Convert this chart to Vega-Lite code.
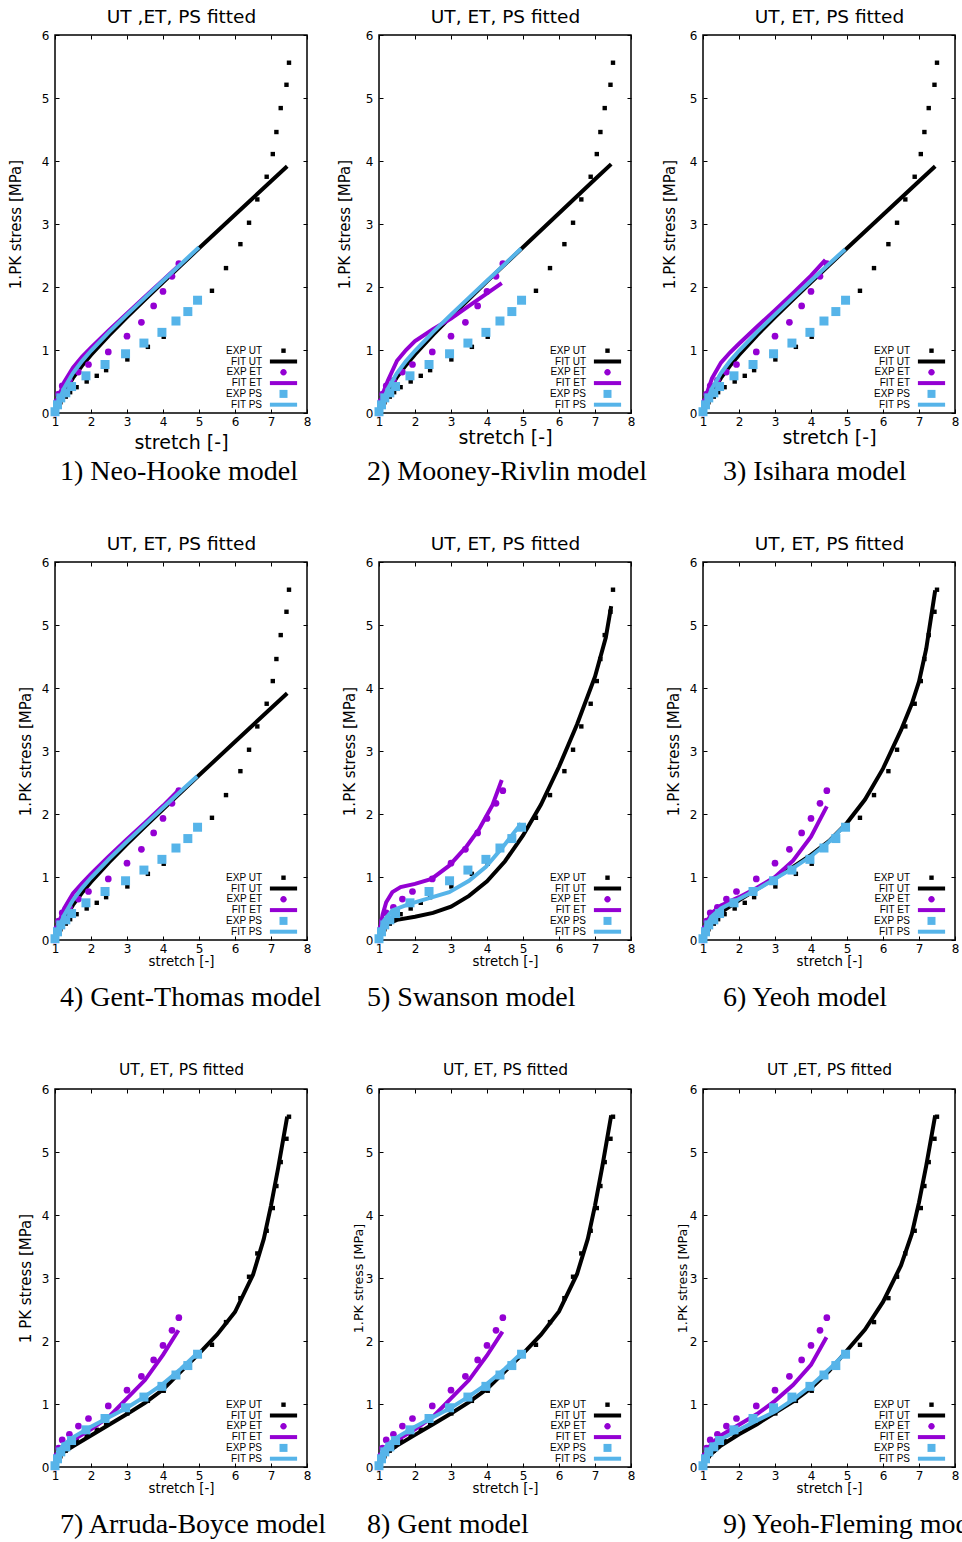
{
"$schema": "https://vega.github.io/schema/vega-lite/v6.json",
"background": "white",
"padding": {"left": 7, "top": 6, "right": 0, "bottom": 0},
"columns": 3,
"spacing": {"row": 149, "column": 72},
"bounds": "flush",
"resolve": {"scale": {"color": "independent", "shape": "independent"}, "legend": {"color": "independent", "shape": "independent"}},
"datasets": {
"exp": [
{"series":"EXP UT","s":1.0,"v":0.0},{"series":"EXP UT","s":1.05,"v":0.08},{"series":"EXP UT","s":1.15,"v":0.17},{"series":"EXP UT","s":1.3,"v":0.26},{"series":"EXP UT","s":1.42,"v":0.33},{"series":"EXP UT","s":1.6,"v":0.41},{"series":"EXP UT","s":1.88,"v":0.5},{"series":"EXP UT","s":2.16,"v":0.59},{"series":"EXP UT","s":2.42,"v":0.68},{"series":"EXP UT","s":3.01,"v":0.85},{"series":"EXP UT","s":3.58,"v":1.05},{"series":"EXP UT","s":4.02,"v":1.21},{"series":"EXP UT","s":4.74,"v":1.58},{"series":"EXP UT","s":5.36,"v":1.94},{"series":"EXP UT","s":5.75,"v":2.3},{"series":"EXP UT","s":6.15,"v":2.68},{"series":"EXP UT","s":6.39,"v":3.02},{"series":"EXP UT","s":6.62,"v":3.39},{"series":"EXP UT","s":6.88,"v":3.75},{"series":"EXP UT","s":7.05,"v":4.11},{"series":"EXP UT","s":7.15,"v":4.46},{"series":"EXP UT","s":7.27,"v":4.84},{"series":"EXP UT","s":7.43,"v":5.21},{"series":"EXP UT","s":7.5,"v":5.56},
{"series":"EXP ET","s":1.0,"v":0.0},{"series":"EXP ET","s":1.05,"v":0.18},{"series":"EXP ET","s":1.1,"v":0.3},{"series":"EXP ET","s":1.2,"v":0.43},{"series":"EXP ET","s":1.4,"v":0.52},{"series":"EXP ET","s":1.65,"v":0.65},{"series":"EXP ET","s":1.93,"v":0.77},{"series":"EXP ET","s":2.48,"v":0.97},{"series":"EXP ET","s":3.0,"v":1.22},{"series":"EXP ET","s":3.4,"v":1.44},{"series":"EXP ET","s":3.74,"v":1.7},{"series":"EXP ET","s":4.0,"v":1.93},{"series":"EXP ET","s":4.25,"v":2.17},{"series":"EXP ET","s":4.44,"v":2.37},
{"series":"EXP PS","s":1.0,"v":0.02},{"series":"EXP PS","s":1.07,"v":0.13},{"series":"EXP PS","s":1.16,"v":0.24},{"series":"EXP PS","s":1.3,"v":0.32},{"series":"EXP PS","s":1.46,"v":0.42},{"series":"EXP PS","s":1.86,"v":0.59},{"series":"EXP PS","s":2.39,"v":0.77},{"series":"EXP PS","s":2.96,"v":0.94},{"series":"EXP PS","s":3.47,"v":1.11},{"series":"EXP PS","s":3.97,"v":1.28},{"series":"EXP PS","s":4.36,"v":1.46},{"series":"EXP PS","s":4.69,"v":1.61},{"series":"EXP PS","s":4.96,"v":1.79}
],
"fit": [
{"p":1,"series":"FIT UT","s":1,"v":0},{"p":1,"series":"FIT UT","s":1.05,"v":0.075},{"p":1,"series":"FIT UT","s":1.1,"v":0.144},{"p":1,"series":"FIT UT","s":1.25,"v":0.321},{"p":1,"series":"FIT UT","s":1.5,"v":0.557},{"p":1,"series":"FIT UT","s":1.75,"v":0.75},{"p":1,"series":"FIT UT","s":2,"v":0.922},{"p":1,"series":"FIT UT","s":2.5,"v":1.233},{"p":1,"series":"FIT UT","s":3,"v":1.522},{"p":1,"series":"FIT UT","s":3.5,"v":1.801},{"p":1,"series":"FIT UT","s":4,"v":2.075},{"p":1,"series":"FIT UT","s":5,"v":2.614},{"p":1,"series":"FIT UT","s":6,"v":3.147},{"p":1,"series":"FIT UT","s":7,"v":3.678},{"p":1,"series":"FIT UT","s":7.45,"v":3.917},
{"p":1,"series":"FIT ET","s":1,"v":0},{"p":1,"series":"FIT ET","s":1.05,"v":0.14},{"p":1,"series":"FIT ET","s":1.1,"v":0.252},{"p":1,"series":"FIT ET","s":1.25,"v":0.486},{"p":1,"series":"FIT ET","s":1.5,"v":0.721},{"p":1,"series":"FIT ET","s":1.75,"v":0.89},{"p":1,"series":"FIT ET","s":2,"v":1.038},{"p":1,"series":"FIT ET","s":2.5,"v":1.316},{"p":1,"series":"FIT ET","s":3,"v":1.581},{"p":1,"series":"FIT ET","s":3.5,"v":1.844},{"p":1,"series":"FIT ET","s":4,"v":2.108},{"p":1,"series":"FIT ET","s":4.45,"v":2.345},
{"p":1,"series":"FIT PS","s":1,"v":0},{"p":1,"series":"FIT PS","s":1.05,"v":0.098},{"p":1,"series":"FIT PS","s":1.1,"v":0.184},{"p":1,"series":"FIT PS","s":1.25,"v":0.389},{"p":1,"series":"FIT PS","s":1.5,"v":0.634},{"p":1,"series":"FIT PS","s":1.75,"v":0.824},{"p":1,"series":"FIT PS","s":2,"v":0.988},{"p":1,"series":"FIT PS","s":2.5,"v":1.284},{"p":1,"series":"FIT PS","s":3,"v":1.561},{"p":1,"series":"FIT PS","s":3.5,"v":1.832},{"p":1,"series":"FIT PS","s":4,"v":2.1},{"p":1,"series":"FIT PS","s":4.5,"v":2.366},{"p":1,"series":"FIT PS","s":5,"v":2.631},

{"p":2,"series":"FIT UT","s":1,"v":0},{"p":2,"series":"FIT UT","s":1.05,"v":0.08},{"p":2,"series":"FIT UT","s":1.1,"v":0.15},{"p":2,"series":"FIT UT","s":1.25,"v":0.33},{"p":2,"series":"FIT UT","s":1.5,"v":0.57},{"p":2,"series":"FIT UT","s":1.75,"v":0.76},{"p":2,"series":"FIT UT","s":2,"v":0.93},{"p":2,"series":"FIT UT","s":2.5,"v":1.24},{"p":2,"series":"FIT UT","s":3,"v":1.53},{"p":2,"series":"FIT UT","s":3.5,"v":1.81},{"p":2,"series":"FIT UT","s":4,"v":2.09},{"p":2,"series":"FIT UT","s":5,"v":2.63},{"p":2,"series":"FIT UT","s":6,"v":3.17},{"p":2,"series":"FIT UT","s":7,"v":3.71},{"p":2,"series":"FIT UT","s":7.45,"v":3.95},
{"p":2,"series":"FIT ET","s":1,"v":0},{"p":2,"series":"FIT ET","s":1.05,"v":0.17},{"p":2,"series":"FIT ET","s":1.1,"v":0.3},{"p":2,"series":"FIT ET","s":1.25,"v":0.52},{"p":2,"series":"FIT ET","s":1.5,"v":0.83},{"p":2,"series":"FIT ET","s":1.75,"v":1.0},{"p":2,"series":"FIT ET","s":2,"v":1.14},{"p":2,"series":"FIT ET","s":2.5,"v":1.33},{"p":2,"series":"FIT ET","s":3,"v":1.5},{"p":2,"series":"FIT ET","s":3.5,"v":1.7},{"p":2,"series":"FIT ET","s":4,"v":1.9},{"p":2,"series":"FIT ET","s":4.41,"v":2.06},
{"p":2,"series":"FIT PS","s":1,"v":0},{"p":2,"series":"FIT PS","s":1.05,"v":0.098},{"p":2,"series":"FIT PS","s":1.1,"v":0.184},{"p":2,"series":"FIT PS","s":1.25,"v":0.389},{"p":2,"series":"FIT PS","s":1.5,"v":0.634},{"p":2,"series":"FIT PS","s":1.75,"v":0.824},{"p":2,"series":"FIT PS","s":2,"v":0.988},{"p":2,"series":"FIT PS","s":2.5,"v":1.284},{"p":2,"series":"FIT PS","s":3,"v":1.561},{"p":2,"series":"FIT PS","s":3.5,"v":1.832},{"p":2,"series":"FIT PS","s":4,"v":2.1},{"p":2,"series":"FIT PS","s":4.5,"v":2.366},{"p":2,"series":"FIT PS","s":4.95,"v":2.61},

{"p":3,"series":"FIT UT","s":1,"v":0},{"p":3,"series":"FIT UT","s":1.05,"v":0.075},{"p":3,"series":"FIT UT","s":1.1,"v":0.144},{"p":3,"series":"FIT UT","s":1.25,"v":0.321},{"p":3,"series":"FIT UT","s":1.5,"v":0.557},{"p":3,"series":"FIT UT","s":1.75,"v":0.75},{"p":3,"series":"FIT UT","s":2,"v":0.922},{"p":3,"series":"FIT UT","s":2.5,"v":1.233},{"p":3,"series":"FIT UT","s":3,"v":1.522},{"p":3,"series":"FIT UT","s":3.5,"v":1.801},{"p":3,"series":"FIT UT","s":4,"v":2.075},{"p":3,"series":"FIT UT","s":5,"v":2.614},{"p":3,"series":"FIT UT","s":6,"v":3.147},{"p":3,"series":"FIT UT","s":7,"v":3.678},{"p":3,"series":"FIT UT","s":7.45,"v":3.917},
{"p":3,"series":"FIT ET","s":1,"v":0},{"p":3,"series":"FIT ET","s":1.05,"v":0.16},{"p":3,"series":"FIT ET","s":1.1,"v":0.3},{"p":3,"series":"FIT ET","s":1.25,"v":0.55},{"p":3,"series":"FIT ET","s":1.5,"v":0.8},{"p":3,"series":"FIT ET","s":1.75,"v":0.96},{"p":3,"series":"FIT ET","s":2,"v":1.1},{"p":3,"series":"FIT ET","s":2.5,"v":1.37},{"p":3,"series":"FIT ET","s":3,"v":1.63},{"p":3,"series":"FIT ET","s":3.5,"v":1.9},{"p":3,"series":"FIT ET","s":4,"v":2.18},{"p":3,"series":"FIT ET","s":4.4,"v":2.43},
{"p":3,"series":"FIT PS","s":1,"v":0},{"p":3,"series":"FIT PS","s":1.05,"v":0.098},{"p":3,"series":"FIT PS","s":1.1,"v":0.184},{"p":3,"series":"FIT PS","s":1.25,"v":0.389},{"p":3,"series":"FIT PS","s":1.5,"v":0.634},{"p":3,"series":"FIT PS","s":1.75,"v":0.824},{"p":3,"series":"FIT PS","s":2,"v":0.988},{"p":3,"series":"FIT PS","s":2.5,"v":1.284},{"p":3,"series":"FIT PS","s":3,"v":1.561},{"p":3,"series":"FIT PS","s":3.5,"v":1.832},{"p":3,"series":"FIT PS","s":4,"v":2.1},{"p":3,"series":"FIT PS","s":4.5,"v":2.366},{"p":3,"series":"FIT PS","s":4.95,"v":2.6},

{"p":4,"series":"FIT UT","s":1,"v":0},{"p":4,"series":"FIT UT","s":1.05,"v":0.075},{"p":4,"series":"FIT UT","s":1.1,"v":0.144},{"p":4,"series":"FIT UT","s":1.25,"v":0.321},{"p":4,"series":"FIT UT","s":1.5,"v":0.557},{"p":4,"series":"FIT UT","s":1.75,"v":0.75},{"p":4,"series":"FIT UT","s":2,"v":0.922},{"p":4,"series":"FIT UT","s":2.5,"v":1.233},{"p":4,"series":"FIT UT","s":3,"v":1.522},{"p":4,"series":"FIT UT","s":3.5,"v":1.801},{"p":4,"series":"FIT UT","s":4,"v":2.075},{"p":4,"series":"FIT UT","s":5,"v":2.614},{"p":4,"series":"FIT UT","s":6,"v":3.147},{"p":4,"series":"FIT UT","s":7,"v":3.678},{"p":4,"series":"FIT UT","s":7.45,"v":3.917},
{"p":4,"series":"FIT ET","s":1,"v":0},{"p":4,"series":"FIT ET","s":1.05,"v":0.15},{"p":4,"series":"FIT ET","s":1.1,"v":0.26},{"p":4,"series":"FIT ET","s":1.25,"v":0.5},{"p":4,"series":"FIT ET","s":1.5,"v":0.74},{"p":4,"series":"FIT ET","s":1.75,"v":0.9},{"p":4,"series":"FIT ET","s":2,"v":1.05},{"p":4,"series":"FIT ET","s":2.5,"v":1.33},{"p":4,"series":"FIT ET","s":3,"v":1.6},{"p":4,"series":"FIT ET","s":3.5,"v":1.86},{"p":4,"series":"FIT ET","s":4,"v":2.13},{"p":4,"series":"FIT ET","s":4.42,"v":2.37},
{"p":4,"series":"FIT PS","s":1,"v":0},{"p":4,"series":"FIT PS","s":1.05,"v":0.098},{"p":4,"series":"FIT PS","s":1.1,"v":0.184},{"p":4,"series":"FIT PS","s":1.25,"v":0.389},{"p":4,"series":"FIT PS","s":1.5,"v":0.634},{"p":4,"series":"FIT PS","s":1.75,"v":0.824},{"p":4,"series":"FIT PS","s":2,"v":0.988},{"p":4,"series":"FIT PS","s":2.5,"v":1.284},{"p":4,"series":"FIT PS","s":3,"v":1.561},{"p":4,"series":"FIT PS","s":3.5,"v":1.832},{"p":4,"series":"FIT PS","s":4,"v":2.1},{"p":4,"series":"FIT PS","s":4.5,"v":2.366},{"p":4,"series":"FIT PS","s":4.95,"v":2.6},

{"p":5,"series":"FIT UT","s":1,"v":0},{"p":5,"series":"FIT UT","s":1.05,"v":0.09},{"p":5,"series":"FIT UT","s":1.1,"v":0.16},{"p":5,"series":"FIT UT","s":1.25,"v":0.26},{"p":5,"series":"FIT UT","s":1.5,"v":0.32},{"p":5,"series":"FIT UT","s":2,"v":0.37},{"p":5,"series":"FIT UT","s":2.5,"v":0.43},{"p":5,"series":"FIT UT","s":3,"v":0.53},{"p":5,"series":"FIT UT","s":3.5,"v":0.7},{"p":5,"series":"FIT UT","s":4,"v":0.93},{"p":5,"series":"FIT UT","s":4.5,"v":1.25},{"p":5,"series":"FIT UT","s":5,"v":1.66},{"p":5,"series":"FIT UT","s":5.5,"v":2.15},{"p":5,"series":"FIT UT","s":6,"v":2.75},{"p":5,"series":"FIT UT","s":6.5,"v":3.42},{"p":5,"series":"FIT UT","s":7,"v":4.18},{"p":5,"series":"FIT UT","s":7.3,"v":4.8},{"p":5,"series":"FIT UT","s":7.45,"v":5.3},
{"p":5,"series":"FIT ET","s":1,"v":0},{"p":5,"series":"FIT ET","s":1.05,"v":0.24},{"p":5,"series":"FIT ET","s":1.1,"v":0.4},{"p":5,"series":"FIT ET","s":1.2,"v":0.6},{"p":5,"series":"FIT ET","s":1.37,"v":0.76},{"p":5,"series":"FIT ET","s":1.6,"v":0.84},{"p":5,"series":"FIT ET","s":2,"v":0.89},{"p":5,"series":"FIT ET","s":2.46,"v":0.97},{"p":5,"series":"FIT ET","s":2.95,"v":1.18},{"p":5,"series":"FIT ET","s":3.41,"v":1.47},{"p":5,"series":"FIT ET","s":3.78,"v":1.76},{"p":5,"series":"FIT ET","s":4.15,"v":2.14},{"p":5,"series":"FIT ET","s":4.41,"v":2.54},
{"p":5,"series":"FIT PS","s":1,"v":0},{"p":5,"series":"FIT PS","s":1.05,"v":0.15},{"p":5,"series":"FIT PS","s":1.14,"v":0.31},{"p":5,"series":"FIT PS","s":1.37,"v":0.47},{"p":5,"series":"FIT PS","s":1.83,"v":0.57},{"p":5,"series":"FIT PS","s":2.3,"v":0.65},{"p":5,"series":"FIT PS","s":2.95,"v":0.76},{"p":5,"series":"FIT PS","s":3.5,"v":0.94},{"p":5,"series":"FIT PS","s":3.97,"v":1.16},{"p":5,"series":"FIT PS","s":4.43,"v":1.47},{"p":5,"series":"FIT PS","s":4.95,"v":1.85},

{"p":6,"series":"FIT UT","s":1,"v":0},{"p":6,"series":"FIT UT","s":1.05,"v":0.08},{"p":6,"series":"FIT UT","s":1.1,"v":0.15},{"p":6,"series":"FIT UT","s":1.25,"v":0.28},{"p":6,"series":"FIT UT","s":1.5,"v":0.44},{"p":6,"series":"FIT UT","s":2,"v":0.63},{"p":6,"series":"FIT UT","s":2.5,"v":0.81},{"p":6,"series":"FIT UT","s":3,"v":0.98},{"p":6,"series":"FIT UT","s":3.5,"v":1.16},{"p":6,"series":"FIT UT","s":4,"v":1.35},{"p":6,"series":"FIT UT","s":4.5,"v":1.57},{"p":6,"series":"FIT UT","s":5,"v":1.86},{"p":6,"series":"FIT UT","s":5.5,"v":2.23},{"p":6,"series":"FIT UT","s":6,"v":2.72},{"p":6,"series":"FIT UT","s":6.5,"v":3.33},{"p":6,"series":"FIT UT","s":6.8,"v":3.75},{"p":6,"series":"FIT UT","s":7,"v":4.1},{"p":6,"series":"FIT UT","s":7.2,"v":4.62},{"p":6,"series":"FIT UT","s":7.45,"v":5.55},
{"p":6,"series":"FIT ET","s":1,"v":0},{"p":6,"series":"FIT ET","s":1.05,"v":0.18},{"p":6,"series":"FIT ET","s":1.1,"v":0.28},{"p":6,"series":"FIT ET","s":1.25,"v":0.43},{"p":6,"series":"FIT ET","s":1.5,"v":0.55},{"p":6,"series":"FIT ET","s":2,"v":0.68},{"p":6,"series":"FIT ET","s":2.5,"v":0.83},{"p":6,"series":"FIT ET","s":3,"v":1.0},{"p":6,"series":"FIT ET","s":3.5,"v":1.26},{"p":6,"series":"FIT ET","s":4,"v":1.64},{"p":6,"series":"FIT ET","s":4.44,"v":2.12},
{"p":6,"series":"FIT PS","s":1,"v":0},{"p":6,"series":"FIT PS","s":1.05,"v":0.15},{"p":6,"series":"FIT PS","s":1.1,"v":0.24},{"p":6,"series":"FIT PS","s":1.25,"v":0.38},{"p":6,"series":"FIT PS","s":1.5,"v":0.5},{"p":6,"series":"FIT PS","s":2,"v":0.65},{"p":6,"series":"FIT PS","s":2.5,"v":0.8},{"p":6,"series":"FIT PS","s":3,"v":0.97},{"p":6,"series":"FIT PS","s":3.5,"v":1.14},{"p":6,"series":"FIT PS","s":4,"v":1.33},{"p":6,"series":"FIT PS","s":4.5,"v":1.56},{"p":6,"series":"FIT PS","s":4.96,"v":1.83},

{"p":7,"series":"FIT UT","s":1,"v":0},{"p":7,"series":"FIT UT","s":1.05,"v":0.1},{"p":7,"series":"FIT UT","s":1.1,"v":0.16},{"p":7,"series":"FIT UT","s":1.25,"v":0.24},{"p":7,"series":"FIT UT","s":1.5,"v":0.33},{"p":7,"series":"FIT UT","s":2,"v":0.5},{"p":7,"series":"FIT UT","s":2.5,"v":0.67},{"p":7,"series":"FIT UT","s":3,"v":0.84},{"p":7,"series":"FIT UT","s":3.5,"v":1.02},{"p":7,"series":"FIT UT","s":4,"v":1.23},{"p":7,"series":"FIT UT","s":4.5,"v":1.52},{"p":7,"series":"FIT UT","s":5,"v":1.8},{"p":7,"series":"FIT UT","s":5.5,"v":2.1},{"p":7,"series":"FIT UT","s":6,"v":2.46},{"p":7,"series":"FIT UT","s":6.5,"v":3.05},{"p":7,"series":"FIT UT","s":6.8,"v":3.62},{"p":7,"series":"FIT UT","s":7,"v":4.15},{"p":7,"series":"FIT UT","s":7.2,"v":4.75},{"p":7,"series":"FIT UT","s":7.45,"v":5.56},
{"p":7,"series":"FIT ET","s":1,"v":0},{"p":7,"series":"FIT ET","s":1.05,"v":0.15},{"p":7,"series":"FIT ET","s":1.1,"v":0.22},{"p":7,"series":"FIT ET","s":1.25,"v":0.32},{"p":7,"series":"FIT ET","s":1.5,"v":0.43},{"p":7,"series":"FIT ET","s":2,"v":0.6},{"p":7,"series":"FIT ET","s":2.5,"v":0.8},{"p":7,"series":"FIT ET","s":3,"v":1.09},{"p":7,"series":"FIT ET","s":3.5,"v":1.38},{"p":7,"series":"FIT ET","s":4,"v":1.78},{"p":7,"series":"FIT ET","s":4.43,"v":2.17},
{"p":7,"series":"FIT PS","s":1,"v":0},{"p":7,"series":"FIT PS","s":1.05,"v":0.16},{"p":7,"series":"FIT PS","s":1.1,"v":0.25},{"p":7,"series":"FIT PS","s":1.25,"v":0.36},{"p":7,"series":"FIT PS","s":1.5,"v":0.47},{"p":7,"series":"FIT PS","s":2,"v":0.64},{"p":7,"series":"FIT PS","s":2.5,"v":0.79},{"p":7,"series":"FIT PS","s":3,"v":0.94},{"p":7,"series":"FIT PS","s":3.5,"v":1.12},{"p":7,"series":"FIT PS","s":4,"v":1.32},{"p":7,"series":"FIT PS","s":4.5,"v":1.56},{"p":7,"series":"FIT PS","s":4.94,"v":1.8},

{"p":8,"series":"FIT UT","s":1,"v":0},{"p":8,"series":"FIT UT","s":1.05,"v":0.1},{"p":8,"series":"FIT UT","s":1.1,"v":0.16},{"p":8,"series":"FIT UT","s":1.25,"v":0.24},{"p":8,"series":"FIT UT","s":1.5,"v":0.34},{"p":8,"series":"FIT UT","s":2,"v":0.51},{"p":8,"series":"FIT UT","s":2.5,"v":0.68},{"p":8,"series":"FIT UT","s":3,"v":0.85},{"p":8,"series":"FIT UT","s":3.5,"v":1.03},{"p":8,"series":"FIT UT","s":4,"v":1.24},{"p":8,"series":"FIT UT","s":4.5,"v":1.52},{"p":8,"series":"FIT UT","s":5,"v":1.8},{"p":8,"series":"FIT UT","s":5.5,"v":2.1},{"p":8,"series":"FIT UT","s":6,"v":2.47},{"p":8,"series":"FIT UT","s":6.5,"v":3.06},{"p":8,"series":"FIT UT","s":6.8,"v":3.62},{"p":8,"series":"FIT UT","s":7,"v":4.15},{"p":8,"series":"FIT UT","s":7.2,"v":4.76},{"p":8,"series":"FIT UT","s":7.45,"v":5.58},
{"p":8,"series":"FIT ET","s":1,"v":0},{"p":8,"series":"FIT ET","s":1.05,"v":0.15},{"p":8,"series":"FIT ET","s":1.1,"v":0.22},{"p":8,"series":"FIT ET","s":1.25,"v":0.32},{"p":8,"series":"FIT ET","s":1.5,"v":0.43},{"p":8,"series":"FIT ET","s":2,"v":0.6},{"p":8,"series":"FIT ET","s":2.5,"v":0.8},{"p":8,"series":"FIT ET","s":3,"v":1.09},{"p":8,"series":"FIT ET","s":3.5,"v":1.38},{"p":8,"series":"FIT ET","s":4,"v":1.77},{"p":8,"series":"FIT ET","s":4.43,"v":2.15},
{"p":8,"series":"FIT PS","s":1,"v":0},{"p":8,"series":"FIT PS","s":1.05,"v":0.16},{"p":8,"series":"FIT PS","s":1.1,"v":0.25},{"p":8,"series":"FIT PS","s":1.25,"v":0.36},{"p":8,"series":"FIT PS","s":1.5,"v":0.47},{"p":8,"series":"FIT PS","s":2,"v":0.64},{"p":8,"series":"FIT PS","s":2.5,"v":0.79},{"p":8,"series":"FIT PS","s":3,"v":0.94},{"p":8,"series":"FIT PS","s":3.5,"v":1.12},{"p":8,"series":"FIT PS","s":4,"v":1.32},{"p":8,"series":"FIT PS","s":4.5,"v":1.56},{"p":8,"series":"FIT PS","s":4.94,"v":1.8},

{"p":9,"series":"FIT UT","s":1,"v":0},{"p":9,"series":"FIT UT","s":1.05,"v":0.07},{"p":9,"series":"FIT UT","s":1.1,"v":0.12},{"p":9,"series":"FIT UT","s":1.25,"v":0.22},{"p":9,"series":"FIT UT","s":1.5,"v":0.34},{"p":9,"series":"FIT UT","s":2,"v":0.52},{"p":9,"series":"FIT UT","s":2.5,"v":0.68},{"p":9,"series":"FIT UT","s":3,"v":0.86},{"p":9,"series":"FIT UT","s":3.5,"v":1.04},{"p":9,"series":"FIT UT","s":4,"v":1.25},{"p":9,"series":"FIT UT","s":4.5,"v":1.52},{"p":9,"series":"FIT UT","s":5,"v":1.85},{"p":9,"series":"FIT UT","s":5.5,"v":2.18},{"p":9,"series":"FIT UT","s":6,"v":2.62},{"p":9,"series":"FIT UT","s":6.5,"v":3.2},{"p":9,"series":"FIT UT","s":6.8,"v":3.7},{"p":9,"series":"FIT UT","s":7,"v":4.2},{"p":9,"series":"FIT UT","s":7.2,"v":4.78},{"p":9,"series":"FIT UT","s":7.45,"v":5.58},
{"p":9,"series":"FIT ET","s":1,"v":0},{"p":9,"series":"FIT ET","s":1.05,"v":0.15},{"p":9,"series":"FIT ET","s":1.1,"v":0.25},{"p":9,"series":"FIT ET","s":1.25,"v":0.38},{"p":9,"series":"FIT ET","s":1.5,"v":0.5},{"p":9,"series":"FIT ET","s":2,"v":0.67},{"p":9,"series":"FIT ET","s":2.5,"v":0.84},{"p":9,"series":"FIT ET","s":3,"v":1.05},{"p":9,"series":"FIT ET","s":3.5,"v":1.3},{"p":9,"series":"FIT ET","s":4,"v":1.62},{"p":9,"series":"FIT ET","s":4.43,"v":2.06},
{"p":9,"series":"FIT PS","s":1,"v":0},{"p":9,"series":"FIT PS","s":1.05,"v":0.13},{"p":9,"series":"FIT PS","s":1.1,"v":0.22},{"p":9,"series":"FIT PS","s":1.25,"v":0.33},{"p":9,"series":"FIT PS","s":1.5,"v":0.44},{"p":9,"series":"FIT PS","s":2,"v":0.59},{"p":9,"series":"FIT PS","s":2.5,"v":0.74},{"p":9,"series":"FIT PS","s":3,"v":0.88},{"p":9,"series":"FIT PS","s":3.5,"v":1.07},{"p":9,"series":"FIT PS","s":4,"v":1.29},{"p":9,"series":"FIT PS","s":4.5,"v":1.55},{"p":9,"series":"FIT PS","s":4.94,"v":1.8}
]
},
"concat": [
{"width":252,"height":378,
 "title":{"text":"1) Neo-Hooke model","orient":"bottom","anchor":"start","frame":"group","dx":5,"offset":6},
 "resolve":{"axis":{"x":"independent","y":"independent"}},
 "layer":[
  {"data":{"name":"exp"},"transform":[{"filter":"datum.series==='EXP UT'"}],"mark":{"type":"point","filled":true,"size":64,"opacity":1},
   "encoding":{
    "x":{"field":"s","type":"quantitative","scale":{"domain":[1,8],"nice":false,"zero":false},"axis":{"orient":"bottom","values":[1,2,3,4,5,6,7,8],"title":"stretch [-]","titleFontSize":19,"titlePadding":6,"labelPadding":7.4}},
    "y":{"field":"v","type":"quantitative","scale":{"domain":[0,6],"nice":false,"zero":false},"axis":{"orient":"left","values":[0,1,2,3,4,5,6],"title":"1.PK stress [MPa]","titleFontSize":15,"titlePadding":18,"labelPadding":10}},
    "color":{"field":"series","type":"nominal","scale":{"domain":["EXP UT","FIT UT","EXP ET","FIT ET","EXP PS","FIT PS"],"range":["#000000","#000000","#9400d3","#9400d3","#56b4e9","#56b4e9"]},"legend":{"orient":"none","legendX":223.5,"legendY":310.7,"direction":"vertical","title":null,"labelAlign":"right","labelOffset":-26.5}},
    "shape":{"field":"series","type":"nominal","scale":{"domain":["EXP UT","FIT UT","EXP ET","FIT ET","EXP PS","FIT PS"],"range":["M-0.55,-0.55H0.55V0.55H-0.55Z","M-3.4,-0.5H3.4V0.5H-3.4Z","M0.8,0A0.8,0.8,0,1,1,-0.8,0A0.8,0.8,0,1,1,0.8,0Z","M-3.4,-0.5H3.4V0.5H-3.4Z","square","M-3.4,-0.5H3.4V0.5H-3.4Z"]},"legend":{"orient":"none","legendX":223.5,"legendY":310.7,"direction":"vertical","title":null,"labelAlign":"right","labelOffset":-26.5}}}},
  {"data":{"name":"fit"},"transform":[{"filter":"datum.p===1 && datum.series==='FIT UT'"}],"mark":{"type":"line","color":"#000000","strokeWidth":4},"encoding":{"x":{"field":"s","type":"quantitative","scale":{"domain":[1,8],"nice":false,"zero":false},"axis":null},"y":{"field":"v","type":"quantitative","scale":{"domain":[0,6],"nice":false,"zero":false},"axis":null}}},
  {"data":{"name":"exp"},"transform":[{"filter":"datum.series==='EXP ET'"}],"mark":{"type":"point","shape":"circle","filled":true,"size":45,"opacity":1,"color":"#9400d3"},"encoding":{"x":{"field":"s","type":"quantitative","scale":{"domain":[1,8],"nice":false,"zero":false},"axis":null},"y":{"field":"v","type":"quantitative","scale":{"domain":[0,6],"nice":false,"zero":false},"axis":null}}},
  {"data":{"name":"fit"},"transform":[{"filter":"datum.p===1 && datum.series==='FIT ET'"}],"mark":{"type":"line","color":"#9400d3","strokeWidth":4},"encoding":{"x":{"field":"s","type":"quantitative","scale":{"domain":[1,8],"nice":false,"zero":false},"axis":null},"y":{"field":"v","type":"quantitative","scale":{"domain":[0,6],"nice":false,"zero":false},"axis":null}}},
  {"data":{"name":"exp"},"transform":[{"filter":"datum.series==='EXP PS'"}],"mark":{"type":"point","shape":"square","filled":true,"size":81,"opacity":1,"color":"#56b4e9"},"encoding":{"x":{"field":"s","type":"quantitative","scale":{"domain":[1,8],"nice":false,"zero":false},"axis":null},"y":{"field":"v","type":"quantitative","scale":{"domain":[0,6],"nice":false,"zero":false},"axis":null}}},
  {"data":{"name":"fit"},"transform":[{"filter":"datum.p===1 && datum.series==='FIT PS'"}],"mark":{"type":"line","color":"#56b4e9","strokeWidth":4},"encoding":{"x":{"field":"s","type":"quantitative","scale":{"domain":[1,8],"nice":false,"zero":false},"axis":{"orient":"top","labels":false,"values":[1,2,3,4,5,6,7,8],"title":"UT ,ET, PS fitted","titleFontSize":18.5,"titlePadding":8.4}},"y":{"field":"v","type":"quantitative","scale":{"domain":[0,6],"nice":false,"zero":false},"axis":{"orient":"right","labels":false,"values":[0,1,2,3,4,5,6],"title":null}}}}
 ]},
{"width":252,"height":378,
 "title":{"text":"2) Mooney-Rivlin model","orient":"bottom","anchor":"start","frame":"group","dx":-12,"offset":10.6},
 "resolve":{"axis":{"x":"independent","y":"independent"}},
 "layer":[
  {"data":{"name":"exp"},"transform":[{"filter":"datum.series==='EXP UT'"}],"mark":{"type":"point","filled":true,"size":64,"opacity":1},
   "encoding":{
    "x":{"field":"s","type":"quantitative","scale":{"domain":[1,8],"nice":false,"zero":false},"axis":{"orient":"bottom","values":[1,2,3,4,5,6,7,8],"title":"stretch [-]","titleFontSize":19,"titlePadding":1,"labelPadding":7.4}},
    "y":{"field":"v","type":"quantitative","scale":{"domain":[0,6],"nice":false,"zero":false},"axis":{"orient":"left","values":[0,1,2,3,4,5,6],"title":"1.PK stress [MPa]","titleFontSize":15,"titlePadding":13,"labelPadding":10}},
    "color":{"field":"series","type":"nominal","scale":{"domain":["EXP UT","FIT UT","EXP ET","FIT ET","EXP PS","FIT PS"],"range":["#000000","#000000","#9400d3","#9400d3","#56b4e9","#56b4e9"]},"legend":{"orient":"none","legendX":223.5,"legendY":310.7,"direction":"vertical","title":null,"labelAlign":"right","labelOffset":-26.5}},
    "shape":{"field":"series","type":"nominal","scale":{"domain":["EXP UT","FIT UT","EXP ET","FIT ET","EXP PS","FIT PS"],"range":["M-0.55,-0.55H0.55V0.55H-0.55Z","M-3.4,-0.5H3.4V0.5H-3.4Z","M0.8,0A0.8,0.8,0,1,1,-0.8,0A0.8,0.8,0,1,1,0.8,0Z","M-3.4,-0.5H3.4V0.5H-3.4Z","square","M-3.4,-0.5H3.4V0.5H-3.4Z"]},"legend":{"orient":"none","legendX":223.5,"legendY":310.7,"direction":"vertical","title":null,"labelAlign":"right","labelOffset":-26.5}}}},
  {"data":{"name":"fit"},"transform":[{"filter":"datum.p===2 && datum.series==='FIT UT'"}],"mark":{"type":"line","color":"#000000","strokeWidth":4},"encoding":{"x":{"field":"s","type":"quantitative","scale":{"domain":[1,8],"nice":false,"zero":false},"axis":null},"y":{"field":"v","type":"quantitative","scale":{"domain":[0,6],"nice":false,"zero":false},"axis":null}}},
  {"data":{"name":"exp"},"transform":[{"filter":"datum.series==='EXP ET'"}],"mark":{"type":"point","shape":"circle","filled":true,"size":45,"opacity":1,"color":"#9400d3"},"encoding":{"x":{"field":"s","type":"quantitative","scale":{"domain":[1,8],"nice":false,"zero":false},"axis":null},"y":{"field":"v","type":"quantitative","scale":{"domain":[0,6],"nice":false,"zero":false},"axis":null}}},
  {"data":{"name":"fit"},"transform":[{"filter":"datum.p===2 && datum.series==='FIT ET'"}],"mark":{"type":"line","color":"#9400d3","strokeWidth":4},"encoding":{"x":{"field":"s","type":"quantitative","scale":{"domain":[1,8],"nice":false,"zero":false},"axis":null},"y":{"field":"v","type":"quantitative","scale":{"domain":[0,6],"nice":false,"zero":false},"axis":null}}},
  {"data":{"name":"exp"},"transform":[{"filter":"datum.series==='EXP PS'"}],"mark":{"type":"point","shape":"square","filled":true,"size":81,"opacity":1,"color":"#56b4e9"},"encoding":{"x":{"field":"s","type":"quantitative","scale":{"domain":[1,8],"nice":false,"zero":false},"axis":null},"y":{"field":"v","type":"quantitative","scale":{"domain":[0,6],"nice":false,"zero":false},"axis":null}}},
  {"data":{"name":"fit"},"transform":[{"filter":"datum.p===2 && datum.series==='FIT PS'"}],"mark":{"type":"line","color":"#56b4e9","strokeWidth":4},"encoding":{"x":{"field":"s","type":"quantitative","scale":{"domain":[1,8],"nice":false,"zero":false},"axis":{"orient":"top","labels":false,"values":[1,2,3,4,5,6,7,8],"title":"UT, ET, PS fitted","titleFontSize":18.5,"titlePadding":8.4}},"y":{"field":"v","type":"quantitative","scale":{"domain":[0,6],"nice":false,"zero":false},"axis":{"orient":"right","labels":false,"values":[0,1,2,3,4,5,6],"title":null}}}}
 ]},
{"width":252,"height":378,
 "title":{"text":"3) Isihara model","orient":"bottom","anchor":"start","frame":"group","dx":20,"offset":10.6},
 "resolve":{"axis":{"x":"independent","y":"independent"}},
 "layer":[
  {"data":{"name":"exp"},"transform":[{"filter":"datum.series==='EXP UT'"}],"mark":{"type":"point","filled":true,"size":64,"opacity":1},
   "encoding":{
    "x":{"field":"s","type":"quantitative","scale":{"domain":[1,8],"nice":false,"zero":false},"axis":{"orient":"bottom","values":[1,2,3,4,5,6,7,8],"title":"stretch [-]","titleFontSize":19,"titlePadding":1,"labelPadding":7.4}},
    "y":{"field":"v","type":"quantitative","scale":{"domain":[0,6],"nice":false,"zero":false},"axis":{"orient":"left","values":[0,1,2,3,4,5,6],"title":"1.PK stress [MPa]","titleFontSize":15,"titlePadding":12,"labelPadding":10}},
    "color":{"field":"series","type":"nominal","scale":{"domain":["EXP UT","FIT UT","EXP ET","FIT ET","EXP PS","FIT PS"],"range":["#000000","#000000","#9400d3","#9400d3","#56b4e9","#56b4e9"]},"legend":{"orient":"none","legendX":223.5,"legendY":310.7,"direction":"vertical","title":null,"labelAlign":"right","labelOffset":-26.5}},
    "shape":{"field":"series","type":"nominal","scale":{"domain":["EXP UT","FIT UT","EXP ET","FIT ET","EXP PS","FIT PS"],"range":["M-0.55,-0.55H0.55V0.55H-0.55Z","M-3.4,-0.5H3.4V0.5H-3.4Z","M0.8,0A0.8,0.8,0,1,1,-0.8,0A0.8,0.8,0,1,1,0.8,0Z","M-3.4,-0.5H3.4V0.5H-3.4Z","square","M-3.4,-0.5H3.4V0.5H-3.4Z"]},"legend":{"orient":"none","legendX":223.5,"legendY":310.7,"direction":"vertical","title":null,"labelAlign":"right","labelOffset":-26.5}}}},
  {"data":{"name":"fit"},"transform":[{"filter":"datum.p===3 && datum.series==='FIT UT'"}],"mark":{"type":"line","color":"#000000","strokeWidth":4},"encoding":{"x":{"field":"s","type":"quantitative","scale":{"domain":[1,8],"nice":false,"zero":false},"axis":null},"y":{"field":"v","type":"quantitative","scale":{"domain":[0,6],"nice":false,"zero":false},"axis":null}}},
  {"data":{"name":"exp"},"transform":[{"filter":"datum.series==='EXP ET'"}],"mark":{"type":"point","shape":"circle","filled":true,"size":45,"opacity":1,"color":"#9400d3"},"encoding":{"x":{"field":"s","type":"quantitative","scale":{"domain":[1,8],"nice":false,"zero":false},"axis":null},"y":{"field":"v","type":"quantitative","scale":{"domain":[0,6],"nice":false,"zero":false},"axis":null}}},
  {"data":{"name":"fit"},"transform":[{"filter":"datum.p===3 && datum.series==='FIT ET'"}],"mark":{"type":"line","color":"#9400d3","strokeWidth":4},"encoding":{"x":{"field":"s","type":"quantitative","scale":{"domain":[1,8],"nice":false,"zero":false},"axis":null},"y":{"field":"v","type":"quantitative","scale":{"domain":[0,6],"nice":false,"zero":false},"axis":null}}},
  {"data":{"name":"exp"},"transform":[{"filter":"datum.series==='EXP PS'"}],"mark":{"type":"point","shape":"square","filled":true,"size":81,"opacity":1,"color":"#56b4e9"},"encoding":{"x":{"field":"s","type":"quantitative","scale":{"domain":[1,8],"nice":false,"zero":false},"axis":null},"y":{"field":"v","type":"quantitative","scale":{"domain":[0,6],"nice":false,"zero":false},"axis":null}}},
  {"data":{"name":"fit"},"transform":[{"filter":"datum.p===3 && datum.series==='FIT PS'"}],"mark":{"type":"line","color":"#56b4e9","strokeWidth":4},"encoding":{"x":{"field":"s","type":"quantitative","scale":{"domain":[1,8],"nice":false,"zero":false},"axis":{"orient":"top","labels":false,"values":[1,2,3,4,5,6,7,8],"title":"UT, ET, PS fitted","titleFontSize":18.5,"titlePadding":8.4}},"y":{"field":"v","type":"quantitative","scale":{"domain":[0,6],"nice":false,"zero":false},"axis":{"orient":"right","labels":false,"values":[0,1,2,3,4,5,6],"title":null}}}}
 ]},
{"width":252,"height":378,
 "title":{"text":"4) Gent-Thomas model","orient":"bottom","anchor":"start","frame":"group","dx":5,"offset":16},
 "resolve":{"axis":{"x":"independent","y":"independent"}},
 "layer":[
  {"data":{"name":"exp"},"transform":[{"filter":"datum.series==='EXP UT'"}],"mark":{"type":"point","filled":true,"size":64,"opacity":1},
   "encoding":{
    "x":{"field":"s","type":"quantitative","scale":{"domain":[1,8],"nice":false,"zero":false},"axis":{"orient":"bottom","values":[1,2,3,4,5,6,7,8],"title":"stretch [-]","titleFontSize":13.3,"titlePadding":0,"labelPadding":7.4}},
    "y":{"field":"v","type":"quantitative","scale":{"domain":[0,6],"nice":false,"zero":false},"axis":{"orient":"left","values":[0,1,2,3,4,5,6],"title":"1.PK stress [MPa]","titleFontSize":15,"titlePadding":8,"labelPadding":10}},
    "color":{"field":"series","type":"nominal","scale":{"domain":["EXP UT","FIT UT","EXP ET","FIT ET","EXP PS","FIT PS"],"range":["#000000","#000000","#9400d3","#9400d3","#56b4e9","#56b4e9"]},"legend":{"orient":"none","legendX":223.5,"legendY":310.7,"direction":"vertical","title":null,"labelAlign":"right","labelOffset":-26.5}},
    "shape":{"field":"series","type":"nominal","scale":{"domain":["EXP UT","FIT UT","EXP ET","FIT ET","EXP PS","FIT PS"],"range":["M-0.55,-0.55H0.55V0.55H-0.55Z","M-3.4,-0.5H3.4V0.5H-3.4Z","M0.8,0A0.8,0.8,0,1,1,-0.8,0A0.8,0.8,0,1,1,0.8,0Z","M-3.4,-0.5H3.4V0.5H-3.4Z","square","M-3.4,-0.5H3.4V0.5H-3.4Z"]},"legend":{"orient":"none","legendX":223.5,"legendY":310.7,"direction":"vertical","title":null,"labelAlign":"right","labelOffset":-26.5}}}},
  {"data":{"name":"fit"},"transform":[{"filter":"datum.p===4 && datum.series==='FIT UT'"}],"mark":{"type":"line","color":"#000000","strokeWidth":4},"encoding":{"x":{"field":"s","type":"quantitative","scale":{"domain":[1,8],"nice":false,"zero":false},"axis":null},"y":{"field":"v","type":"quantitative","scale":{"domain":[0,6],"nice":false,"zero":false},"axis":null}}},
  {"data":{"name":"exp"},"transform":[{"filter":"datum.series==='EXP ET'"}],"mark":{"type":"point","shape":"circle","filled":true,"size":45,"opacity":1,"color":"#9400d3"},"encoding":{"x":{"field":"s","type":"quantitative","scale":{"domain":[1,8],"nice":false,"zero":false},"axis":null},"y":{"field":"v","type":"quantitative","scale":{"domain":[0,6],"nice":false,"zero":false},"axis":null}}},
  {"data":{"name":"fit"},"transform":[{"filter":"datum.p===4 && datum.series==='FIT ET'"}],"mark":{"type":"line","color":"#9400d3","strokeWidth":4},"encoding":{"x":{"field":"s","type":"quantitative","scale":{"domain":[1,8],"nice":false,"zero":false},"axis":null},"y":{"field":"v","type":"quantitative","scale":{"domain":[0,6],"nice":false,"zero":false},"axis":null}}},
  {"data":{"name":"exp"},"transform":[{"filter":"datum.series==='EXP PS'"}],"mark":{"type":"point","shape":"square","filled":true,"size":81,"opacity":1,"color":"#56b4e9"},"encoding":{"x":{"field":"s","type":"quantitative","scale":{"domain":[1,8],"nice":false,"zero":false},"axis":null},"y":{"field":"v","type":"quantitative","scale":{"domain":[0,6],"nice":false,"zero":false},"axis":null}}},
  {"data":{"name":"fit"},"transform":[{"filter":"datum.p===4 && datum.series==='FIT PS'"}],"mark":{"type":"line","color":"#56b4e9","strokeWidth":4},"encoding":{"x":{"field":"s","type":"quantitative","scale":{"domain":[1,8],"nice":false,"zero":false},"axis":{"orient":"top","labels":false,"values":[1,2,3,4,5,6,7,8],"title":"UT, ET, PS fitted","titleFontSize":18.5,"titlePadding":8.4}},"y":{"field":"v","type":"quantitative","scale":{"domain":[0,6],"nice":false,"zero":false},"axis":{"orient":"right","labels":false,"values":[0,1,2,3,4,5,6],"title":null}}}}
 ]},
{"width":252,"height":378,
 "title":{"text":"5) Swanson model","orient":"bottom","anchor":"start","frame":"group","dx":-12,"offset":16},
 "resolve":{"axis":{"x":"independent","y":"independent"}},
 "layer":[
  {"data":{"name":"exp"},"transform":[{"filter":"datum.series==='EXP UT'"}],"mark":{"type":"point","filled":true,"size":64,"opacity":1},
   "encoding":{
    "x":{"field":"s","type":"quantitative","scale":{"domain":[1,8],"nice":false,"zero":false},"axis":{"orient":"bottom","values":[1,2,3,4,5,6,7,8],"title":"stretch [-]","titleFontSize":13.3,"titlePadding":0,"labelPadding":7.4}},
    "y":{"field":"v","type":"quantitative","scale":{"domain":[0,6],"nice":false,"zero":false},"axis":{"orient":"left","values":[0,1,2,3,4,5,6],"title":"1.PK stress [MPa]","titleFontSize":15,"titlePadding":8,"labelPadding":10}},
    "color":{"field":"series","type":"nominal","scale":{"domain":["EXP UT","FIT UT","EXP ET","FIT ET","EXP PS","FIT PS"],"range":["#000000","#000000","#9400d3","#9400d3","#56b4e9","#56b4e9"]},"legend":{"orient":"none","legendX":223.5,"legendY":310.7,"direction":"vertical","title":null,"labelAlign":"right","labelOffset":-26.5}},
    "shape":{"field":"series","type":"nominal","scale":{"domain":["EXP UT","FIT UT","EXP ET","FIT ET","EXP PS","FIT PS"],"range":["M-0.55,-0.55H0.55V0.55H-0.55Z","M-3.4,-0.5H3.4V0.5H-3.4Z","M0.8,0A0.8,0.8,0,1,1,-0.8,0A0.8,0.8,0,1,1,0.8,0Z","M-3.4,-0.5H3.4V0.5H-3.4Z","square","M-3.4,-0.5H3.4V0.5H-3.4Z"]},"legend":{"orient":"none","legendX":223.5,"legendY":310.7,"direction":"vertical","title":null,"labelAlign":"right","labelOffset":-26.5}}}},
  {"data":{"name":"fit"},"transform":[{"filter":"datum.p===5 && datum.series==='FIT UT'"}],"mark":{"type":"line","color":"#000000","strokeWidth":4},"encoding":{"x":{"field":"s","type":"quantitative","scale":{"domain":[1,8],"nice":false,"zero":false},"axis":null},"y":{"field":"v","type":"quantitative","scale":{"domain":[0,6],"nice":false,"zero":false},"axis":null}}},
  {"data":{"name":"exp"},"transform":[{"filter":"datum.series==='EXP ET'"}],"mark":{"type":"point","shape":"circle","filled":true,"size":45,"opacity":1,"color":"#9400d3"},"encoding":{"x":{"field":"s","type":"quantitative","scale":{"domain":[1,8],"nice":false,"zero":false},"axis":null},"y":{"field":"v","type":"quantitative","scale":{"domain":[0,6],"nice":false,"zero":false},"axis":null}}},
  {"data":{"name":"fit"},"transform":[{"filter":"datum.p===5 && datum.series==='FIT ET'"}],"mark":{"type":"line","color":"#9400d3","strokeWidth":4},"encoding":{"x":{"field":"s","type":"quantitative","scale":{"domain":[1,8],"nice":false,"zero":false},"axis":null},"y":{"field":"v","type":"quantitative","scale":{"domain":[0,6],"nice":false,"zero":false},"axis":null}}},
  {"data":{"name":"exp"},"transform":[{"filter":"datum.series==='EXP PS'"}],"mark":{"type":"point","shape":"square","filled":true,"size":81,"opacity":1,"color":"#56b4e9"},"encoding":{"x":{"field":"s","type":"quantitative","scale":{"domain":[1,8],"nice":false,"zero":false},"axis":null},"y":{"field":"v","type":"quantitative","scale":{"domain":[0,6],"nice":false,"zero":false},"axis":null}}},
  {"data":{"name":"fit"},"transform":[{"filter":"datum.p===5 && datum.series==='FIT PS'"}],"mark":{"type":"line","color":"#56b4e9","strokeWidth":4},"encoding":{"x":{"field":"s","type":"quantitative","scale":{"domain":[1,8],"nice":false,"zero":false},"axis":{"orient":"top","labels":false,"values":[1,2,3,4,5,6,7,8],"title":"UT, ET, PS fitted","titleFontSize":18.5,"titlePadding":8.4}},"y":{"field":"v","type":"quantitative","scale":{"domain":[0,6],"nice":false,"zero":false},"axis":{"orient":"right","labels":false,"values":[0,1,2,3,4,5,6],"title":null}}}}
 ]},
{"width":252,"height":378,
 "title":{"text":"6) Yeoh model","orient":"bottom","anchor":"start","frame":"group","dx":20,"offset":16},
 "resolve":{"axis":{"x":"independent","y":"independent"}},
 "layer":[
  {"data":{"name":"exp"},"transform":[{"filter":"datum.series==='EXP UT'"}],"mark":{"type":"point","filled":true,"size":64,"opacity":1},
   "encoding":{
    "x":{"field":"s","type":"quantitative","scale":{"domain":[1,8],"nice":false,"zero":false},"axis":{"orient":"bottom","values":[1,2,3,4,5,6,7,8],"title":"stretch [-]","titleFontSize":13.3,"titlePadding":0,"labelPadding":7.4}},
    "y":{"field":"v","type":"quantitative","scale":{"domain":[0,6],"nice":false,"zero":false},"axis":{"orient":"left","values":[0,1,2,3,4,5,6],"title":"1.PK stress [MPa]","titleFontSize":15,"titlePadding":8,"labelPadding":10}},
    "color":{"field":"series","type":"nominal","scale":{"domain":["EXP UT","FIT UT","EXP ET","FIT ET","EXP PS","FIT PS"],"range":["#000000","#000000","#9400d3","#9400d3","#56b4e9","#56b4e9"]},"legend":{"orient":"none","legendX":223.5,"legendY":310.7,"direction":"vertical","title":null,"labelAlign":"right","labelOffset":-26.5}},
    "shape":{"field":"series","type":"nominal","scale":{"domain":["EXP UT","FIT UT","EXP ET","FIT ET","EXP PS","FIT PS"],"range":["M-0.55,-0.55H0.55V0.55H-0.55Z","M-3.4,-0.5H3.4V0.5H-3.4Z","M0.8,0A0.8,0.8,0,1,1,-0.8,0A0.8,0.8,0,1,1,0.8,0Z","M-3.4,-0.5H3.4V0.5H-3.4Z","square","M-3.4,-0.5H3.4V0.5H-3.4Z"]},"legend":{"orient":"none","legendX":223.5,"legendY":310.7,"direction":"vertical","title":null,"labelAlign":"right","labelOffset":-26.5}}}},
  {"data":{"name":"fit"},"transform":[{"filter":"datum.p===6 && datum.series==='FIT UT'"}],"mark":{"type":"line","color":"#000000","strokeWidth":4},"encoding":{"x":{"field":"s","type":"quantitative","scale":{"domain":[1,8],"nice":false,"zero":false},"axis":null},"y":{"field":"v","type":"quantitative","scale":{"domain":[0,6],"nice":false,"zero":false},"axis":null}}},
  {"data":{"name":"exp"},"transform":[{"filter":"datum.series==='EXP ET'"}],"mark":{"type":"point","shape":"circle","filled":true,"size":45,"opacity":1,"color":"#9400d3"},"encoding":{"x":{"field":"s","type":"quantitative","scale":{"domain":[1,8],"nice":false,"zero":false},"axis":null},"y":{"field":"v","type":"quantitative","scale":{"domain":[0,6],"nice":false,"zero":false},"axis":null}}},
  {"data":{"name":"fit"},"transform":[{"filter":"datum.p===6 && datum.series==='FIT ET'"}],"mark":{"type":"line","color":"#9400d3","strokeWidth":4},"encoding":{"x":{"field":"s","type":"quantitative","scale":{"domain":[1,8],"nice":false,"zero":false},"axis":null},"y":{"field":"v","type":"quantitative","scale":{"domain":[0,6],"nice":false,"zero":false},"axis":null}}},
  {"data":{"name":"exp"},"transform":[{"filter":"datum.series==='EXP PS'"}],"mark":{"type":"point","shape":"square","filled":true,"size":81,"opacity":1,"color":"#56b4e9"},"encoding":{"x":{"field":"s","type":"quantitative","scale":{"domain":[1,8],"nice":false,"zero":false},"axis":null},"y":{"field":"v","type":"quantitative","scale":{"domain":[0,6],"nice":false,"zero":false},"axis":null}}},
  {"data":{"name":"fit"},"transform":[{"filter":"datum.p===6 && datum.series==='FIT PS'"}],"mark":{"type":"line","color":"#56b4e9","strokeWidth":4},"encoding":{"x":{"field":"s","type":"quantitative","scale":{"domain":[1,8],"nice":false,"zero":false},"axis":{"orient":"top","labels":false,"values":[1,2,3,4,5,6,7,8],"title":"UT, ET, PS fitted","titleFontSize":18.5,"titlePadding":8.4}},"y":{"field":"v","type":"quantitative","scale":{"domain":[0,6],"nice":false,"zero":false},"axis":{"orient":"right","labels":false,"values":[0,1,2,3,4,5,6],"title":null}}}}
 ]},
{"width":252,"height":378,
 "title":{"text":"7) Arruda-Boyce model","orient":"bottom","anchor":"start","frame":"group","dx":5,"offset":16},
 "resolve":{"axis":{"x":"independent","y":"independent"}},
 "layer":[
  {"data":{"name":"exp"},"transform":[{"filter":"datum.series==='EXP UT'"}],"mark":{"type":"point","filled":true,"size":64,"opacity":1},
   "encoding":{
    "x":{"field":"s","type":"quantitative","scale":{"domain":[1,8],"nice":false,"zero":false},"axis":{"orient":"bottom","values":[1,2,3,4,5,6,7,8],"title":"stretch [-]","titleFontSize":13.3,"titlePadding":0,"labelPadding":7.4}},
    "y":{"field":"v","type":"quantitative","scale":{"domain":[0,6],"nice":false,"zero":false},"axis":{"orient":"left","values":[0,1,2,3,4,5,6],"title":"1 PK stress [MPa]","titleFontSize":15,"titlePadding":8,"labelPadding":10}},
    "color":{"field":"series","type":"nominal","scale":{"domain":["EXP UT","FIT UT","EXP ET","FIT ET","EXP PS","FIT PS"],"range":["#000000","#000000","#9400d3","#9400d3","#56b4e9","#56b4e9"]},"legend":{"orient":"none","legendX":223.5,"legendY":310.7,"direction":"vertical","title":null,"labelAlign":"right","labelOffset":-26.5}},
    "shape":{"field":"series","type":"nominal","scale":{"domain":["EXP UT","FIT UT","EXP ET","FIT ET","EXP PS","FIT PS"],"range":["M-0.55,-0.55H0.55V0.55H-0.55Z","M-3.4,-0.5H3.4V0.5H-3.4Z","M0.8,0A0.8,0.8,0,1,1,-0.8,0A0.8,0.8,0,1,1,0.8,0Z","M-3.4,-0.5H3.4V0.5H-3.4Z","square","M-3.4,-0.5H3.4V0.5H-3.4Z"]},"legend":{"orient":"none","legendX":223.5,"legendY":310.7,"direction":"vertical","title":null,"labelAlign":"right","labelOffset":-26.5}}}},
  {"data":{"name":"fit"},"transform":[{"filter":"datum.p===7 && datum.series==='FIT UT'"}],"mark":{"type":"line","color":"#000000","strokeWidth":4},"encoding":{"x":{"field":"s","type":"quantitative","scale":{"domain":[1,8],"nice":false,"zero":false},"axis":null},"y":{"field":"v","type":"quantitative","scale":{"domain":[0,6],"nice":false,"zero":false},"axis":null}}},
  {"data":{"name":"exp"},"transform":[{"filter":"datum.series==='EXP ET'"}],"mark":{"type":"point","shape":"circle","filled":true,"size":45,"opacity":1,"color":"#9400d3"},"encoding":{"x":{"field":"s","type":"quantitative","scale":{"domain":[1,8],"nice":false,"zero":false},"axis":null},"y":{"field":"v","type":"quantitative","scale":{"domain":[0,6],"nice":false,"zero":false},"axis":null}}},
  {"data":{"name":"fit"},"transform":[{"filter":"datum.p===7 && datum.series==='FIT ET'"}],"mark":{"type":"line","color":"#9400d3","strokeWidth":4},"encoding":{"x":{"field":"s","type":"quantitative","scale":{"domain":[1,8],"nice":false,"zero":false},"axis":null},"y":{"field":"v","type":"quantitative","scale":{"domain":[0,6],"nice":false,"zero":false},"axis":null}}},
  {"data":{"name":"exp"},"transform":[{"filter":"datum.series==='EXP PS'"}],"mark":{"type":"point","shape":"square","filled":true,"size":81,"opacity":1,"color":"#56b4e9"},"encoding":{"x":{"field":"s","type":"quantitative","scale":{"domain":[1,8],"nice":false,"zero":false},"axis":null},"y":{"field":"v","type":"quantitative","scale":{"domain":[0,6],"nice":false,"zero":false},"axis":null}}},
  {"data":{"name":"fit"},"transform":[{"filter":"datum.p===7 && datum.series==='FIT PS'"}],"mark":{"type":"line","color":"#56b4e9","strokeWidth":4},"encoding":{"x":{"field":"s","type":"quantitative","scale":{"domain":[1,8],"nice":false,"zero":false},"axis":{"orient":"top","labels":false,"values":[1,2,3,4,5,6,7,8],"title":"UT, ET, PS fitted","titleFontSize":15.5,"titlePadding":11}},"y":{"field":"v","type":"quantitative","scale":{"domain":[0,6],"nice":false,"zero":false},"axis":{"orient":"right","labels":false,"values":[0,1,2,3,4,5,6],"title":null}}}}
 ]},
{"width":252,"height":378,
 "title":{"text":"8) Gent model","orient":"bottom","anchor":"start","frame":"group","dx":-12,"offset":16},
 "resolve":{"axis":{"x":"independent","y":"independent"}},
 "layer":[
  {"data":{"name":"exp"},"transform":[{"filter":"datum.series==='EXP UT'"}],"mark":{"type":"point","filled":true,"size":64,"opacity":1},
   "encoding":{
    "x":{"field":"s","type":"quantitative","scale":{"domain":[1,8],"nice":false,"zero":false},"axis":{"orient":"bottom","values":[1,2,3,4,5,6,7,8],"title":"stretch [-]","titleFontSize":13.3,"titlePadding":0,"labelPadding":7.4}},
    "y":{"field":"v","type":"quantitative","scale":{"domain":[0,6],"nice":false,"zero":false},"axis":{"orient":"left","values":[0,1,2,3,4,5,6],"title":"1.PK stress [MPa]","titleFontSize":12.7,"titlePadding":0,"labelPadding":10}},
    "color":{"field":"series","type":"nominal","scale":{"domain":["EXP UT","FIT UT","EXP ET","FIT ET","EXP PS","FIT PS"],"range":["#000000","#000000","#9400d3","#9400d3","#56b4e9","#56b4e9"]},"legend":{"orient":"none","legendX":223.5,"legendY":310.7,"direction":"vertical","title":null,"labelAlign":"right","labelOffset":-26.5}},
    "shape":{"field":"series","type":"nominal","scale":{"domain":["EXP UT","FIT UT","EXP ET","FIT ET","EXP PS","FIT PS"],"range":["M-0.55,-0.55H0.55V0.55H-0.55Z","M-3.4,-0.5H3.4V0.5H-3.4Z","M0.8,0A0.8,0.8,0,1,1,-0.8,0A0.8,0.8,0,1,1,0.8,0Z","M-3.4,-0.5H3.4V0.5H-3.4Z","square","M-3.4,-0.5H3.4V0.5H-3.4Z"]},"legend":{"orient":"none","legendX":223.5,"legendY":310.7,"direction":"vertical","title":null,"labelAlign":"right","labelOffset":-26.5}}}},
  {"data":{"name":"fit"},"transform":[{"filter":"datum.p===8 && datum.series==='FIT UT'"}],"mark":{"type":"line","color":"#000000","strokeWidth":4},"encoding":{"x":{"field":"s","type":"quantitative","scale":{"domain":[1,8],"nice":false,"zero":false},"axis":null},"y":{"field":"v","type":"quantitative","scale":{"domain":[0,6],"nice":false,"zero":false},"axis":null}}},
  {"data":{"name":"exp"},"transform":[{"filter":"datum.series==='EXP ET'"}],"mark":{"type":"point","shape":"circle","filled":true,"size":45,"opacity":1,"color":"#9400d3"},"encoding":{"x":{"field":"s","type":"quantitative","scale":{"domain":[1,8],"nice":false,"zero":false},"axis":null},"y":{"field":"v","type":"quantitative","scale":{"domain":[0,6],"nice":false,"zero":false},"axis":null}}},
  {"data":{"name":"fit"},"transform":[{"filter":"datum.p===8 && datum.series==='FIT ET'"}],"mark":{"type":"line","color":"#9400d3","strokeWidth":4},"encoding":{"x":{"field":"s","type":"quantitative","scale":{"domain":[1,8],"nice":false,"zero":false},"axis":null},"y":{"field":"v","type":"quantitative","scale":{"domain":[0,6],"nice":false,"zero":false},"axis":null}}},
  {"data":{"name":"exp"},"transform":[{"filter":"datum.series==='EXP PS'"}],"mark":{"type":"point","shape":"square","filled":true,"size":81,"opacity":1,"color":"#56b4e9"},"encoding":{"x":{"field":"s","type":"quantitative","scale":{"domain":[1,8],"nice":false,"zero":false},"axis":null},"y":{"field":"v","type":"quantitative","scale":{"domain":[0,6],"nice":false,"zero":false},"axis":null}}},
  {"data":{"name":"fit"},"transform":[{"filter":"datum.p===8 && datum.series==='FIT PS'"}],"mark":{"type":"line","color":"#56b4e9","strokeWidth":4},"encoding":{"x":{"field":"s","type":"quantitative","scale":{"domain":[1,8],"nice":false,"zero":false},"axis":{"orient":"top","labels":false,"values":[1,2,3,4,5,6,7,8],"title":"UT, ET, PS fitted","titleFontSize":15.5,"titlePadding":11}},"y":{"field":"v","type":"quantitative","scale":{"domain":[0,6],"nice":false,"zero":false},"axis":{"orient":"right","labels":false,"values":[0,1,2,3,4,5,6],"title":null}}}}
 ]},
{"width":252,"height":378,
 "title":{"text":"9) Yeoh-Fleming model","orient":"bottom","anchor":"start","frame":"group","dx":20,"offset":16},
 "resolve":{"axis":{"x":"independent","y":"independent"}},
 "layer":[
  {"data":{"name":"exp"},"transform":[{"filter":"datum.series==='EXP UT'"}],"mark":{"type":"point","filled":true,"size":64,"opacity":1},
   "encoding":{
    "x":{"field":"s","type":"quantitative","scale":{"domain":[1,8],"nice":false,"zero":false},"axis":{"orient":"bottom","values":[1,2,3,4,5,6,7,8],"title":"stretch [-]","titleFontSize":13.3,"titlePadding":0,"labelPadding":7.4}},
    "y":{"field":"v","type":"quantitative","scale":{"domain":[0,6],"nice":false,"zero":false},"axis":{"orient":"left","values":[0,1,2,3,4,5,6],"title":"1.PK stress [MPa]","titleFontSize":12.7,"titlePadding":0,"labelPadding":10}},
    "color":{"field":"series","type":"nominal","scale":{"domain":["EXP UT","FIT UT","EXP ET","FIT ET","EXP PS","FIT PS"],"range":["#000000","#000000","#9400d3","#9400d3","#56b4e9","#56b4e9"]},"legend":{"orient":"none","legendX":223.5,"legendY":310.7,"direction":"vertical","title":null,"labelAlign":"right","labelOffset":-26.5}},
    "shape":{"field":"series","type":"nominal","scale":{"domain":["EXP UT","FIT UT","EXP ET","FIT ET","EXP PS","FIT PS"],"range":["M-0.55,-0.55H0.55V0.55H-0.55Z","M-3.4,-0.5H3.4V0.5H-3.4Z","M0.8,0A0.8,0.8,0,1,1,-0.8,0A0.8,0.8,0,1,1,0.8,0Z","M-3.4,-0.5H3.4V0.5H-3.4Z","square","M-3.4,-0.5H3.4V0.5H-3.4Z"]},"legend":{"orient":"none","legendX":223.5,"legendY":310.7,"direction":"vertical","title":null,"labelAlign":"right","labelOffset":-26.5}}}},
  {"data":{"name":"fit"},"transform":[{"filter":"datum.p===9 && datum.series==='FIT UT'"}],"mark":{"type":"line","color":"#000000","strokeWidth":4},"encoding":{"x":{"field":"s","type":"quantitative","scale":{"domain":[1,8],"nice":false,"zero":false},"axis":null},"y":{"field":"v","type":"quantitative","scale":{"domain":[0,6],"nice":false,"zero":false},"axis":null}}},
  {"data":{"name":"exp"},"transform":[{"filter":"datum.series==='EXP ET'"}],"mark":{"type":"point","shape":"circle","filled":true,"size":45,"opacity":1,"color":"#9400d3"},"encoding":{"x":{"field":"s","type":"quantitative","scale":{"domain":[1,8],"nice":false,"zero":false},"axis":null},"y":{"field":"v","type":"quantitative","scale":{"domain":[0,6],"nice":false,"zero":false},"axis":null}}},
  {"data":{"name":"fit"},"transform":[{"filter":"datum.p===9 && datum.series==='FIT ET'"}],"mark":{"type":"line","color":"#9400d3","strokeWidth":4},"encoding":{"x":{"field":"s","type":"quantitative","scale":{"domain":[1,8],"nice":false,"zero":false},"axis":null},"y":{"field":"v","type":"quantitative","scale":{"domain":[0,6],"nice":false,"zero":false},"axis":null}}},
  {"data":{"name":"exp"},"transform":[{"filter":"datum.series==='EXP PS'"}],"mark":{"type":"point","shape":"square","filled":true,"size":81,"opacity":1,"color":"#56b4e9"},"encoding":{"x":{"field":"s","type":"quantitative","scale":{"domain":[1,8],"nice":false,"zero":false},"axis":null},"y":{"field":"v","type":"quantitative","scale":{"domain":[0,6],"nice":false,"zero":false},"axis":null}}},
  {"data":{"name":"fit"},"transform":[{"filter":"datum.p===9 && datum.series==='FIT PS'"}],"mark":{"type":"line","color":"#56b4e9","strokeWidth":4},"encoding":{"x":{"field":"s","type":"quantitative","scale":{"domain":[1,8],"nice":false,"zero":false},"axis":{"orient":"top","labels":false,"values":[1,2,3,4,5,6,7,8],"title":"UT ,ET, PS fitted","titleFontSize":15.5,"titlePadding":11}},"y":{"field":"v","type":"quantitative","scale":{"domain":[0,6],"nice":false,"zero":false},"axis":{"orient":"right","labels":false,"values":[0,1,2,3,4,5,6],"title":null}}}}
 ]}
],
"config": {
 "view": {"stroke": "#000000", "strokeWidth": 1.5},
 "font": "DejaVu Sans",
 "axis": {"grid": false, "domain": false, "ticks": true, "tickColor": "#000000", "tickSize": -4, "tickWidth": 1, "labelFont": "DejaVu Sans", "labelFontSize": 12, "labelColor": "#000000", "labelFlush": false, "labelOverlap": false, "titleFont": "DejaVu Sans", "titleFontWeight": "normal", "titleColor": "#000000"},
 "legend": {"labelFont": "Liberation Sans", "labelFontSize": 10, "labelColor": "#000000", "symbolSize": 64, "symbolStrokeWidth": 0, "rowPadding": 0.8, "padding": 0, "labelLimit": 200},
 "title": {"font": "Liberation Serif", "fontSize": 28, "fontWeight": "normal", "color": "#000000"}
}
}
